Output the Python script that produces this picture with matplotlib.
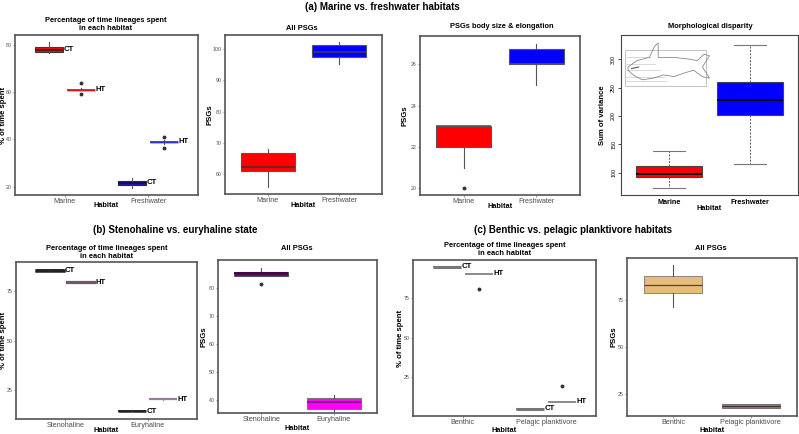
import matplotlib
matplotlib.use('Agg')
import matplotlib.pyplot as plt
from matplotlib.patches import Rectangle, Polygon

plt.rcParams['font.family'] = ['Liberation Sans', 'DejaVu Sans']

# ---------------- data ----------------
# five-number summaries: [lower whisker, Q1, median, Q3, upper whisker]
cats_a = ['Marine', 'Freshwater']
a_time_CT = [[76.5, 77.2, 78.0, 79.0, 81.3], [19.3, 20.8, 21.7, 22.5, 23.5]]
a_time_CT_out = [[], []]
a_time_HT = [[60.3, 60.6, 61.0, 61.3, 61.7], [38.2, 38.5, 39.0, 39.3, 39.7]]
a_time_HT_out = [[64.1, 59.3], [41.1, 36.3]]
a_psg_all = [[55.8, 61.05, 62.4, 66.7, 68.1], [95.1, 97.4, 99.2, 101.2, 102.2]]
a_psg_body = [[21.0, 22.0, 23.0, 23.0, 23.0], [25.0, 26.0, 26.0, 26.75, 27.0]]
a_psg_body_out = [[20.0], []]
a_disparity = [[72.4, 93.0, 97.6, 112.3, 137.7], [115.0, 201.0, 229.0, 260.0, 324.7]]

cats_b = ['Stenohaline', 'Euryhaline']
b_time_CT = [[85.3, 85.6, 85.8, 86.0, 86.3], [13.9, 14.0, 14.2, 14.4, 14.5]]
b_time_HT = [[79.3, 79.5, 79.6, 79.8, 79.9], [20.0, 20.2, 20.3, 20.5, 20.6]]
b_psg_all = [[84.2, 84.2, 85.2, 85.7, 86.9], [36.2, 37.0, 39.3, 41.0, 41.9]]
b_psg_all_out = [[81.2], []]

cats_c = ['Benthic', 'Pelagic planktivore']
c_time_CT = [[94.8, 94.7, 94.8, 94.9, 94.8], [5.0, 4.9, 5.0, 5.1, 5.0]]
c_time_HT = [[90.4, 90.35, 90.4, 90.45, 90.4], [9.4, 9.35, 9.4, 9.45, 9.4]]
c_time_HT_out = [[80.7], [19.5]]
c_psg_all = [[71.3, 79.0, 83.4, 87.9, 94.2], [17.1, 17.1, 18.4, 19.6, 19.6]]

series_labels = ['CT', 'HT']

# ---------------- figure ----------------
W, H = 799, 434
fig = plt.figure(figsize=(W / 100, H / 100), dpi=100)

XT = 5.2      # x tick label size
YT = 3.8      # y tick label size
LAB = 5.3     # axis label size
TT = 5.4      # panel title size
SUP = 7.0     # group title size
TAG = 5.6     # CT / HT tag size


def ax_px(rect):
    l, t, r, b = rect
    return fig.add_axes([l / W, 1 - b / H, (r - l) / W, (b - t) / H])


def ftext(x, y, s, **kw):
    fig.text(x / W, 1 - y / H, s, ha='center', va='center', **kw)


def place_labels(ax, rect, xlab_y, ylab_x):
    l, t, r, b = rect
    ax.xaxis.set_label_coords(0.5, (b - xlab_y) / (b - t))
    ax.xaxis.label.set_va('center')
    ax.yaxis.set_label_coords((ylab_x - l) / (r - l), 0.5)
    ax.yaxis.label.set_va('center')


def to_stats(summ, outs=None):
    res = []
    for i, s in enumerate(summ):
        res.append(dict(whislo=s[0], q1=s[1], med=s[2], q3=s[3], whishi=s[4],
                        fliers=(outs[i] if outs else [])))
    return res


def gg_box(ax, summ, outs, positions, width, faces, edges, meds, lw=0.8,
           whis_color='#555555', whis_lw=0.8, med_lw=1.2):
    b = ax.bxp(to_stats(summ, outs), positions=positions, widths=width,
               patch_artist=True, showcaps=False,
               boxprops=dict(linewidth=lw),
               medianprops=dict(linewidth=med_lw),
               whiskerprops=dict(color=whis_color, linewidth=whis_lw),
               flierprops=dict(marker='o', markersize=1.8, markerfacecolor='#333333',
                               markeredgecolor='#333333', linestyle='none'),
               manage_ticks=False, zorder=3)
    for i, p in enumerate(b['boxes']):
        p.set_facecolor(faces[i])
        p.set_edgecolor(edges[i])
    for i, m in enumerate(b['medians']):
        m.set_color(meds[i])
    return b


def gg_style(ax, rect, ylim, yticks, cats, ylabel, xlab_y, ylab_x):
    ax.set_xlim(0.4, 2.6)
    ax.set_ylim(*ylim)
    ax.set_xticks([1, 2])
    ax.set_xticklabels(cats, fontsize=XT, color='#4d4d4d')
    ax.set_yticks(yticks)
    ax.tick_params(axis='y', labelsize=YT, labelcolor='#4d4d4d', length=1.5,
                   width=0.5, color='#666666', pad=0.8)
    ax.tick_params(axis='x', length=1.5, width=0.5, color='#666666', pad=0.6)
    for sp in ax.spines.values():
        sp.set_color('#555555')
        sp.set_linewidth(1.2)
    ax.set_xlabel('Habitat', fontsize=LAB, fontweight='bold')
    ax.set_ylabel(ylabel, fontsize=LAB + 0.3, fontweight='bold')
    place_labels(ax, rect, xlab_y, ylab_x)


def dodge_panel(ax, ct, ct_out, ht, ht_out, ct_face, ct_edge, ht_face, ht_edge,
                ct_lw=0.8, ht_lw=0.8, whis_color='#555555', ct_med=None, ht_med=None):
    off, w = 0.19, 0.34
    pos_ct = [i + 1 - off for i in range(len(ct))]
    pos_ht = [i + 1 + off for i in range(len(ht))]
    gg_box(ax, ct, ct_out, pos_ct, w, ct_face, ct_edge, ct_med or ct_edge, lw=ct_lw,
           whis_color=whis_color)
    gg_box(ax, ht, ht_out, pos_ht, w, ht_face, ht_edge, ht_med or ht_edge, lw=ht_lw,
           whis_color=whis_color)
    for p, s in zip(pos_ct, ct):
        ax.text(p + w / 2 + 0.005, s[2], series_labels[0], fontsize=TAG,
                fontweight='bold', va='center', ha='left', zorder=4)
    for p, s in zip(pos_ht, ht):
        ax.text(p + w / 2 + 0.005, s[2], series_labels[1], fontsize=TAG,
                fontweight='bold', va='center', ha='left', zorder=4)


# ---------- group titles ----------
ftext(382, 7, '(a) Marine vs. freshwater habitats', fontsize=SUP, fontweight='bold')
ftext(175, 230, '(b) Stenohaline vs. euryhaline state', fontsize=SUP, fontweight='bold')
ftext(573, 230, '(c) Benthic vs. pelagic planktivore habitats', fontsize=SUP, fontweight='bold')

title_kw = dict(fontsize=TT, fontweight='bold', linespacing=1.2)
time_title = 'Percentage of time lineages spent\nin each habitat'

# ---------- a1 ----------
r = (15, 35, 198, 195)
ax = ax_px(r)
dodge_panel(ax, a_time_CT, a_time_CT_out, a_time_HT, a_time_HT_out,
            ['#e01010', '#1a1aa6'], ['#3a3a3a', '#2a2a2a'],
            ['#e82828', '#4040e0'], ['#c8c8c8', '#b8b8d8'],
            ct_lw=0.8, ht_lw=0.5, ct_med=['#5a1010', '#10104a'],
            ht_med=['#d01818', '#3030c8'])
gg_style(ax, r, (16.5, 84.2), [20, 40, 60, 80], cats_a, '% of time spent', 205.5, 3.5)
ftext(106, 24.5, time_title, **title_kw)

# ---------- a2 ----------
r = (225, 35, 382, 194)
ax = ax_px(r)
gg_box(ax, a_psg_all, None, [1, 2], 0.75, ['#ff0000', '#0000ff'],
       ['#555555', '#555555'], ['#5a2a2a', '#3a3a5a'])
gg_style(ax, r, (53.6, 104.5), [60, 70, 80, 90, 100], cats_a, 'PSGs', 205.5, 210)
ftext(302, 28, 'All PSGs', **title_kw)

# ---------- a3 ----------
r = (420, 36, 580, 195)
ax = ax_px(r)
gg_box(ax, a_psg_body, a_psg_body_out, [1, 2], 0.75, ['#ff0000', '#0000ff'],
       ['#555555', '#555555'], ['#555555', '#555555'])
gg_style(ax, r, (19.68, 27.37), [20, 22, 24, 26], cats_a, 'PSGs', 206, 405)
ftext(502, 26, 'PSGs body size & elongation', **title_kw)

# ---------- a4 (base-R style) ----------
r = (621, 35, 798, 195)
ax = ax_px(r)
b = ax.bxp(to_stats(a_disparity), positions=[1, 2], widths=0.81,
           patch_artist=True, showcaps=True,
           boxprops=dict(linewidth=0.8, edgecolor='#444444'),
           medianprops=dict(color='black', linewidth=1.3),
           whiskerprops=dict(color='#555555', linewidth=0.7, linestyle=(0, (2, 1.5))),
           capprops=dict(color='#777777', linewidth=0.8),
           capwidths=0.4, manage_ticks=False, zorder=3)
for p, c in zip(b['boxes'], ['#ff0000', '#0000ff']):
    p.set_facecolor(c)
ax.set_xlim(0.41, 2.59)
ax.set_ylim(60.7, 342.9)
ax.set_xticks([1, 2])
ax.set_xticklabels(cats_a, fontsize=XT, fontweight='bold')
ax.set_yticks([100, 150, 200, 250, 300])
ax.set_yticklabels(['100', '150', '200', '250', '300'], rotation=90, va='center')
ax.tick_params(axis='y', labelsize=YT, length=2.5, width=0.5, pad=1)
ax.tick_params(axis='x', length=0, pad=3)
for sp in ax.spines.values():
    sp.set_color('#444444')
    sp.set_linewidth(0.8)
ax.set_xlabel('Habitat', fontsize=LAB, fontweight='bold')
ax.set_ylabel('Sum of variance', fontsize=LAB + 0.3, fontweight='bold')
place_labels(ax, r, 208.5, 603)
ftext(710, 26, 'Morphological disparity', **title_kw)
# decorative fish sketch (inset illustration)
tr = ax.transAxes
ax.add_patch(Rectangle((0.023, 0.68), 0.46, 0.225, transform=tr, fill=False,
                       edgecolor='#aaaaaa', lw=0.5, zorder=2))
for yy in (0.86, 0.82, 0.78, 0.74, 0.71):
    ax.plot([0.03, 0.17 + (0.86 - yy) * 0.6], [yy, yy], transform=tr,
            color='#bbbbbb', lw=0.4, zorder=2)
fish = [(0.04, 0.80), (0.09, 0.84), (0.16, 0.86), (0.19, 0.93), (0.21, 0.95),
        (0.21, 0.86), (0.30, 0.86), (0.38, 0.85), (0.43, 0.84), (0.47, 0.88),
        (0.50, 0.87), (0.46, 0.80), (0.50, 0.73), (0.46, 0.74), (0.41, 0.78),
        (0.35, 0.76), (0.30, 0.74), (0.24, 0.75), (0.18, 0.73), (0.12, 0.72),
        (0.07, 0.75), (0.04, 0.78)]
ax.add_patch(Polygon(fish, closed=True, transform=tr, fill=False,
                     edgecolor='#888888', lw=0.6, zorder=2))
ax.plot([0.06, 0.10], [0.79, 0.80], transform=tr, color='#555555', lw=0.8, zorder=2)

# ---------- b1 ----------
r = (16, 262, 197, 419)
ax = ax_px(r)
dodge_panel(ax, b_time_CT, None, b_time_HT, None,
            ['#222222', '#222222'], ['#222222', '#222222'],
            ['#6a5a6a', '#9a7a9a'], ['#6a5a6a', '#9a7a9a'],
            ct_lw=1.8, ht_lw=1.6, whis_color='#888888')
gg_style(ax, r, (10.15, 90.0), [25, 50, 75], cats_b, '% of time spent', 431, 4)
ftext(107, 252.5, time_title, **title_kw)

# ---------- b2 ----------
r = (218, 260, 377, 413)
ax = ax_px(r)
gg_box(ax, b_psg_all, b_psg_all_out, [1, 2], 0.75, ['#5e0a5e', '#ff00ff'],
       ['#555555', '#777777'], ['#3a003a', '#7a107a'])
gg_style(ax, r, (35.5, 89.9), [40, 50, 60, 70, 80], cats_b, 'PSGs', 429, 204.5)
ftext(297, 248, 'All PSGs', **title_kw)

# ---------- c1 ----------
r = (413, 260, 596, 416)
ax = ax_px(r)
dodge_panel(ax, c_time_CT, None, c_time_HT, c_time_HT_out,
            ['#777777', '#777777'], ['#777777', '#777777'],
            ['#8a8a8a', '#8a8a8a'], ['#8a8a8a', '#8a8a8a'],
            ct_lw=2.2, ht_lw=1.1, whis_color='#888888')
gg_style(ax, r, (0.5, 99.2), [25, 50, 75], cats_c, '% of time spent', 431, 400.5)
ftext(505, 249.5, time_title, **title_kw)

# ---------- c2 ----------
r = (627, 258, 797, 416)
ax = ax_px(r)
gg_box(ax, c_psg_all, None, [1, 2], 0.75, ['#e6bd78', '#d06a6a'],
       ['#777777', '#606060'], ['#444444', '#4a2a2a'], lw=0.6, med_lw=0.9)
gg_style(ax, r, (13.0, 97.8), [25, 50, 75], cats_c, 'PSGs', 430, 614)
ftext(711, 249, 'All PSGs', **title_kw)

fig.savefig('out.png', dpi=100)
